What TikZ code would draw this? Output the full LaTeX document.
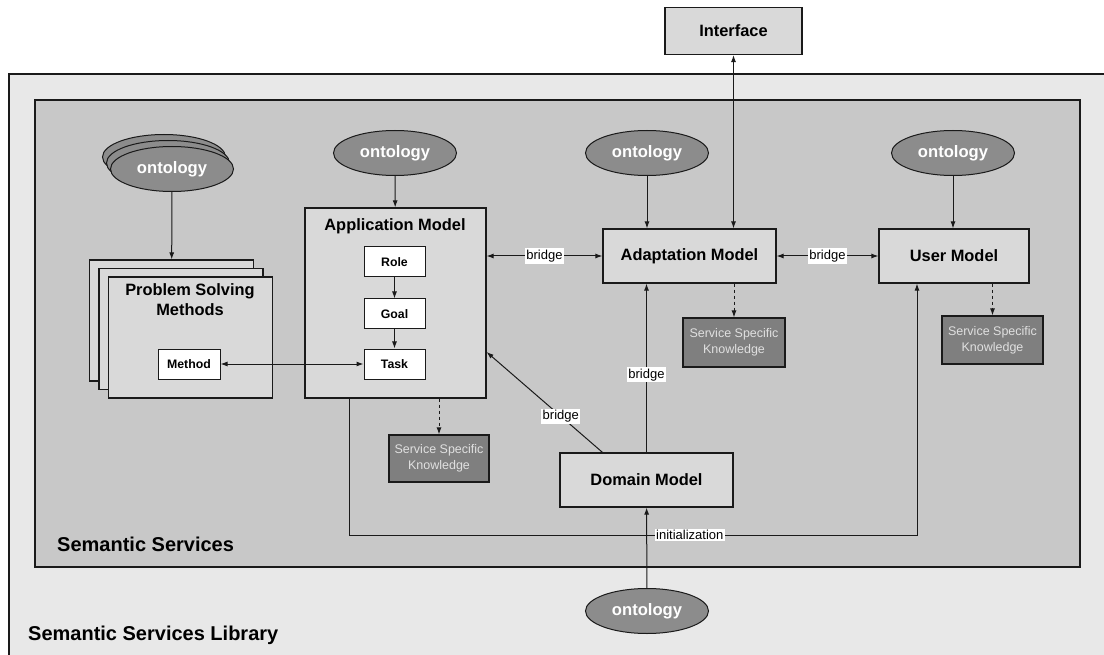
\documentclass[tikz,border=0pt]{standalone}
\usepackage{fontspec}
\setmainfont{Liberation Sans}
\usetikzlibrary{positioning, shapes.geometric, arrows.meta}
\definecolor{libGray}{HTML}{E8E8E8}
\definecolor{servGray}{HTML}{C8C8C8}
\definecolor{boxGray}{HTML}{D9D9D9}
\definecolor{ontoGray}{HTML}{8C8C8C}
\definecolor{sskGray}{HTML}{7F7F7F}
\definecolor{lineGray}{HTML}{1A1A1A}
\tikzstyle{areaBox} = [shape=rectangle, draw=lineGray, line width=1.2pt, inner sep=0pt]
\tikzstyle{modelBox} = [shape=rectangle, draw=lineGray, line width=1.2pt, fill=boxGray,
	align=center, font=\fontsize{16.4}{20}\selectfont\bfseries]
\tikzstyle{smallBox} = [shape=rectangle, draw=lineGray, line width=1pt, fill=white,
	minimum width=61pt, minimum height=30pt, font=\fontsize{12.3}{14}\selectfont\bfseries]
\tikzstyle{ontoEllipse} = [shape=ellipse, draw=lineGray, line width=1pt, fill=ontoGray, text=white,
	minimum width=123pt, minimum height=45pt, inner sep=0pt, font=\fontsize{16.6}{19}\selectfont\bfseries]
\tikzstyle{sskBox} = [shape=rectangle, draw=lineGray, line width=1.2pt, fill=sskGray, text=white!88!black,
	align=center, minimum width=101pt, minimum height=48pt, font=\fontsize{12.5}{16}\selectfont]
\tikzstyle{conn} = [line width=1pt, draw=lineGray, >={Latex[length=7pt,width=5pt]}]
\tikzstyle{bridgeLabel} = [fill=white, inner sep=1.5pt, font=\fontsize{13}{15}\selectfont]
\tikzstyle{areaText} = [anchor=west, inner sep=0pt, font=\fontsize{20}{22}\selectfont\bfseries]

\begin{document}
\begin{tikzpicture}[x=1pt, y=-1pt]
  \useasboundingbox (0,0) rectangle (1104,655);
  \node (lib) at (559.5,367) [areaBox, fill=libGray, minimum width=1101pt, minimum height=586pt] {};
  \node (serv) at (557.5,333.5) [areaBox, fill=servGray, minimum width=1045pt, minimum height=467pt] {};
  \node (libText) at (28,635) [areaText] {Semantic Services Library};
  \node (servText) at (57,544) [areaText] {Semantic Services};

  \node (iface) at (733.5,31) [modelBox, minimum width=137pt, minimum height=47pt] {Interface};

  % ontologies
  \node (ontoPSM3) at (164,157) [ontoEllipse] {};
  \node (ontoPSM2) at (168,163) [ontoEllipse] {};
  \node (ontoPSM) at (172,169) [ontoEllipse] {ontology};
  \node (ontoApp) at (395,153) [ontoEllipse] {ontology};
  \node (ontoAdapt) at (647,153) [ontoEllipse] {ontology};
  \node (ontoUser) at (953,153) [ontoEllipse] {ontology};
  \node (ontoDomain) at (647,611) [ontoEllipse] {ontology};

  % problem solving methods
  \node (psm3) at (171.5,320.5) [modelBox, minimum width=164pt, minimum height=121pt] {};
  \node (psm2) at (181,329) [modelBox, minimum width=164pt, minimum height=121pt] {};
  \node (psm) at (190.5,337.5) [modelBox, minimum width=164pt, minimum height=121pt] {};
  \node (psmTitle) at (190,300) [font=\fontsize{16.4}{20}\selectfont\bfseries, align=center] {Problem Solving\\Methods};
  \node (method) at (189,364) [smallBox, minimum width=62pt] {Method};

  % application model
  \node (app) at (395.5,303) [modelBox, minimum width=181pt, minimum height=190pt] {};
  \node (appTitle) at (395,226) [font=\fontsize{16.4}{20}\selectfont\bfseries] {Application Model};
  \node (role) at (394.5,262) [smallBox] {Role};
  \node (goal) at (394.5,314) [smallBox] {Goal};
  \node (task) at (394.5,364) [smallBox] {Task};

  \node (adapt) at (689.5,256) [modelBox, minimum width=173pt, minimum height=54pt] {Adaptation Model};
  \node (user) at (954,256) [modelBox, minimum width=150pt, minimum height=54pt] {User Model};
  \node (domain) at (646.5,480) [modelBox, minimum width=173pt, minimum height=54pt] {Domain Model};

  \node (sskApp) at (439,458.5) [sskBox, minimum width=100pt, minimum height=47pt] {Service Specific\\Knowledge};
  \node (sskAdapt) at (734,342.5) [sskBox, minimum width=102pt, minimum height=49pt] {Service Specific\\Knowledge};
  \node (sskUser) at (992.5,340) [sskBox] {Service Specific\\Knowledge};

  \coordinate (initEnd) at (917,535);

  \draw [conn,->] (ontoPSM) -- (psm3);
  \draw [conn,->] (ontoApp) -- (app);
  \draw [conn,->] (ontoAdapt.south) -- (ontoAdapt.south |- adapt.north);
  \draw [conn,->] (ontoUser.south) -- (ontoUser.south |- user.north);
  \draw [conn,<->] (iface.south) -- (iface.south |- adapt.north);
  \draw [conn,->] (role) -- (goal);
  \draw [conn,->] (goal) -- (task);
  \draw [conn,<->] (method) -- (task);
  \draw [conn,<->] (app.east |- adapt.west) -- node[bridgeLabel] {bridge} (adapt.west);
  \draw [conn,<->] (adapt.east) -- node[bridgeLabel] {bridge} (user.west);
  \draw [conn,->] ([xshift=-44pt]domain.north) -- node[bridgeLabel, pos=0.36] {bridge} ([yshift=-49pt]app.east);
  \draw [conn,->] (domain.north) -- node[bridgeLabel, pos=0.46] {bridge} (domain.north |- adapt.south);
  \draw [conn,->,dashed] (sskApp.north |- app.south) -- (sskApp.north);
  \draw [conn,->,dashed] (sskAdapt.north |- adapt.south) -- (sskAdapt.north);
  \draw [conn,->,dashed] (sskUser.north |- user.south) -- (sskUser.north);
  \draw [conn,->] (ontoDomain) -- (domain);
  \draw [conn,->] ([xshift=-46.5pt]app.south) |- node[bridgeLabel, pos=0.8] {initialization} (initEnd) -- (initEnd |- user.south);
\end{tikzpicture}
\end{document}
